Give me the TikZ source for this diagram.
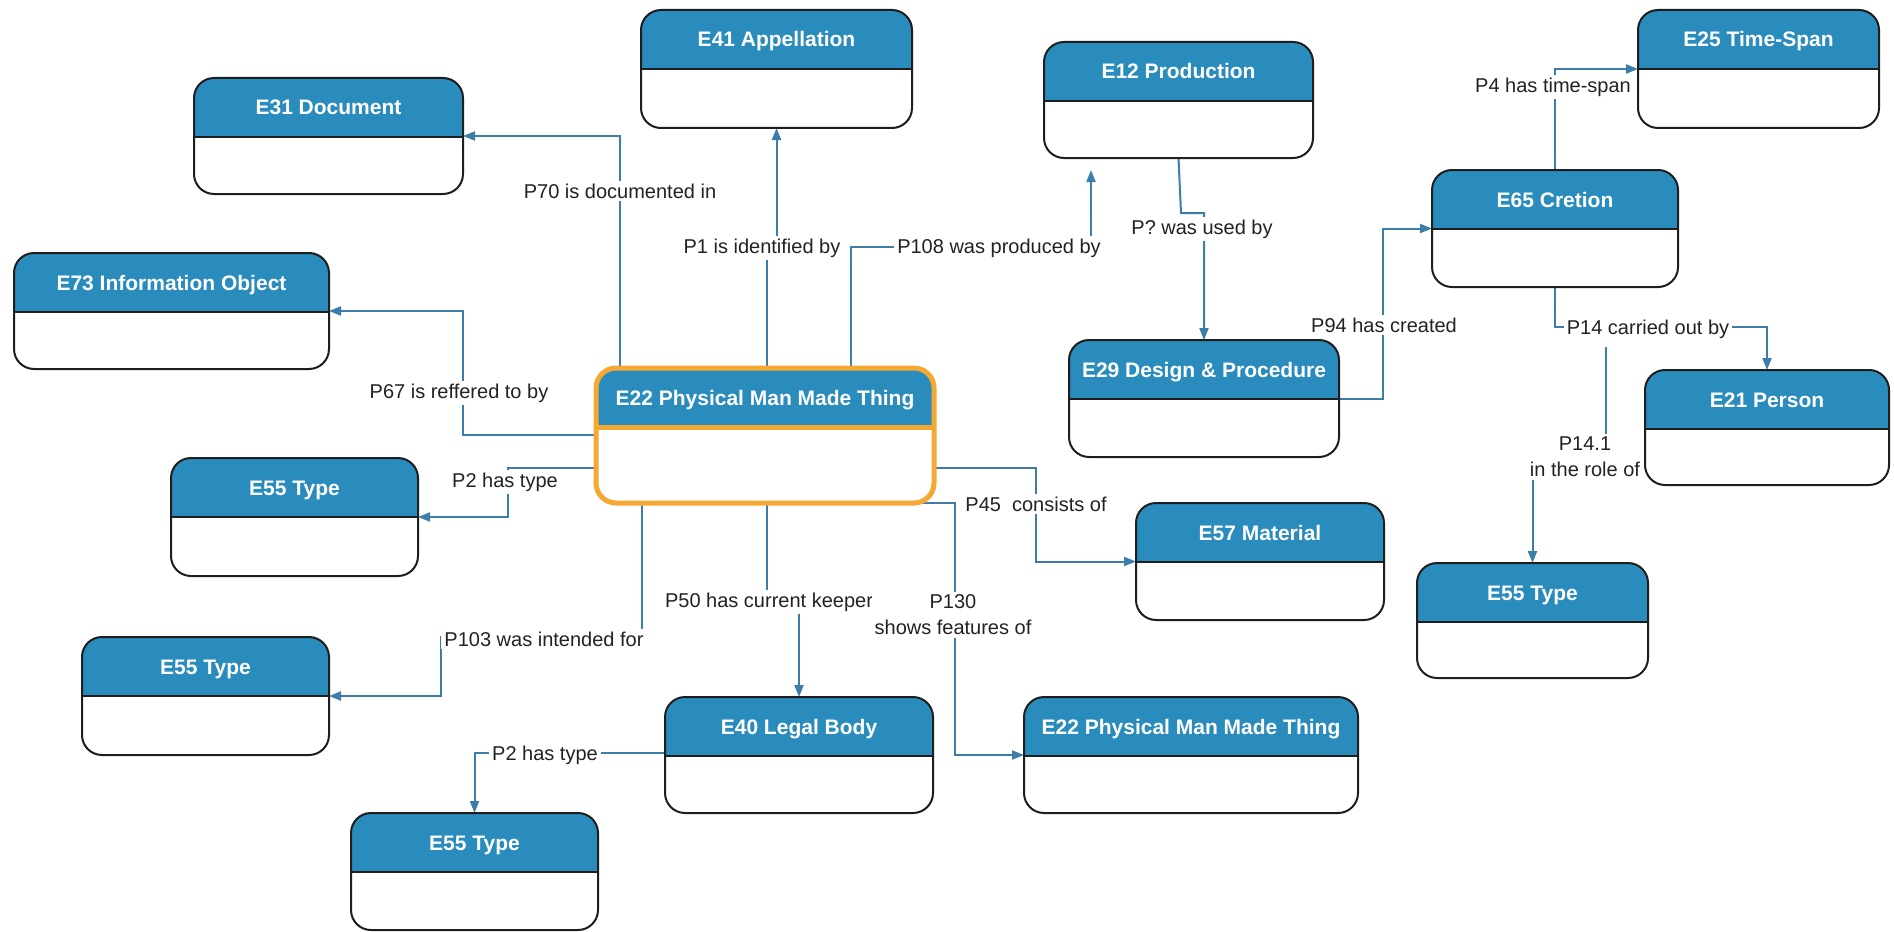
\documentclass[tikz,border=0pt]{standalone}
\usepackage{fontspec}
\setmainfont{Liberation Sans}
\usetikzlibrary{arrows.meta}

\definecolor{hdr}{HTML}{2A8CBC}
\definecolor{conncol}{HTML}{3C7DAA}
\definecolor{hl}{HTML}{F5A832}
\definecolor{lbltext}{HTML}{222222}
\definecolor{edge}{HTML}{1E1E1E}

\pgfdeclarelayer{paper}
\pgfdeclarelayer{bg}
\pgfsetlayers{paper,bg,main}

\tikzset{
  boxbase/.style={rounded corners=10pt, fill=white, inner sep=0pt, outer sep=0pt},
  entity/.style={boxbase, draw=edge, line width=1pt,
    path picture={
      \fill[hdr, sharp corners] ([yshift=3pt]path picture bounding box.north west)
        rectangle ([yshift=-29.5pt]path picture bounding box.north east);
      \draw[edge, line width=1pt, sharp corners]
        ([yshift=-29.5pt]path picture bounding box.north west)
        -- ([yshift=-29.5pt]path picture bounding box.north east);
    }},
  focus/.style={draw=hl, line width=2.5pt,
    path picture={
      \fill[hdr, sharp corners] ([yshift=3pt]path picture bounding box.north west)
        rectangle ([yshift=-29.5pt]path picture bounding box.north east);
      \draw[hl, line width=2.5pt, sharp corners]
        ([yshift=-29.5pt]path picture bounding box.north west)
        -- ([yshift=-29.5pt]path picture bounding box.north east);
    }},
  etitle/.style={anchor=base, text=white, inner sep=0pt,
    font=\fontsize{10.5}{12}\selectfont\bfseries},
  lbl/.style={fill=white, text=lbltext, inner sep=1.5pt, align=center,
    font=\fontsize{10}{13}\selectfont},
  conn/.style={draw=conncol, line width=1pt,
    -{Triangle[length=6pt,width=4.5pt]}},
}

% \entitybox[extra style]{name}{x}{y}{width}{height}{title}, all in px
\newcommand\entitybox[7][]{%
  \node[entity,#1,minimum width=#5*0.5pt,minimum height=#6*0.5pt,
        anchor=north west] (#2) at (#3,#4) {};
  \node[etitle] (#2-t) at ([yshift=-18.5pt]#2.north) {#7};
}

\begin{document}
\begin{tikzpicture}[x=0.5pt, y=-0.5pt]
\useasboundingbox (0,0) rectangle (1894,931);
\begin{pgfonlayer}{paper}
\fill[white] (0,0) rectangle (1894,931);
\end{pgfonlayer}

% relation labels
\node[lbl] (l70)  at (620,191)  {P70 is documented in};
\node[lbl] (l1)   at (762,248)  {P1 is identified by};
\node[lbl] (l108) at (999,248)  {P108 was produced by};
\node[lbl] (lused) at (1202,229) {P? was used by};
\node[lbl] (l4)   at (1553,87)  {P4 has time-span};
\node[lbl] (l94)  at (1384,325) {P94 has created};
\node[lbl] (l14)  at (1648,329) {P14 carried out by};
\node[lbl] (l141) at (1585,457) {P14.1\\in the role of};
\node[lbl] (l67)  at (459,393)  {P67 is reffered to by};
\node[lbl] (l2a)  at (505,482)  {P2 has type};
\node[lbl] (l45)  at (1036,504) {P45\ \ consists of};
\node[lbl] (l50)  at (769,602)  {P50 has current keeper};
\node[lbl] (l130) at (953,615)  {P130\\shows features of};
\node[lbl] (l103) at (544,639)  {P103 was intended for};
\node[lbl] (l2b)  at (545,755)  {P2 has type};

% entity classes
\entitybox{app}{641}{10}{271}{118}{E41 Appellation}
\entitybox{doc}{194}{78}{269}{116}{E31 Document}
\entitybox{prod}{1044}{42}{269}{116}{E12 Production}
\entitybox{ts}{1638}{10}{241}{118}{E25 Time-Span}
\entitybox{cre}{1432}{170}{246}{117}{E65 Cretion}
\entitybox{info}{14}{253}{315}{116}{E73 Information Object}
\entitybox{des}{1069}{340}{270}{117}{E29 Design \& Procedure}
\entitybox{pers}{1645}{370}{244}{115}{E21 Person}
\entitybox[focus]{pmt}{596}{368}{338}{135}{E22 Physical Man Made Thing}
\entitybox{ta}{171}{458}{247}{118}{E55 Type}
\entitybox{mat}{1136}{503}{248}{117}{E57 Material}
\entitybox{tb}{1417}{563}{231}{115}{E55 Type}
\entitybox{tc}{82}{637}{247}{118}{E55 Type}
\entitybox{lb}{665}{697}{268}{116}{E40 Legal Body}
\entitybox{pmt2}{1024}{697}{334}{116}{E22 Physical Man Made Thing}
\entitybox{td}{351}{813}{247}{117}{E55 Type}

\coordinate (p141) at (1606,347);

% properties
\begin{pgfonlayer}{bg}
\draw[conn] (pmt.north -| 620,0) |- (doc.east);
\draw[conn] (pmt.north -| 767,0) -- (767,248) -| (app.south);
\draw[conn, shorten >=6pt] (pmt.north -| 851,0) |- (1091,247) -- (1091,0 |- prod.south);
\draw[conn] (prod.south) -- (1181,213) -| (des.north);
\draw[conn] (cre.north) |- (ts.west);
\draw[conn] (des.east) -| (1383,0 |- cre.west) -- (cre.west);
\draw[conn] (cre.south) -- (1555,327) -| (pers.north);
\draw[conn] (p141) -- (1606,456) -| (tb.north);
\draw[conn] (pmt.west |- 0,435) -| (463,0 |- info.east) -- (info.east);
\draw[conn] (pmt.west |- 0,468) -| (508,0 |- ta.east) -- (ta.east);
\draw[conn] (pmt.south -| 642,0) -- (642,637) -- (441,637) |- (tc.east);
\draw[conn] (pmt.south -| 767,0) -- (767,602) -| (lb.north);
\draw[conn] (pmt.south -| 890,0) -- (955,503) |- (pmt2.west);
\draw[conn] (pmt.east |- 0,468) -| (1036,0 |- mat.west) -- (mat.west);
\draw[conn] (lb.west |- 0,753) -| (td.north);
\end{pgfonlayer}
\end{tikzpicture}
\end{document}
